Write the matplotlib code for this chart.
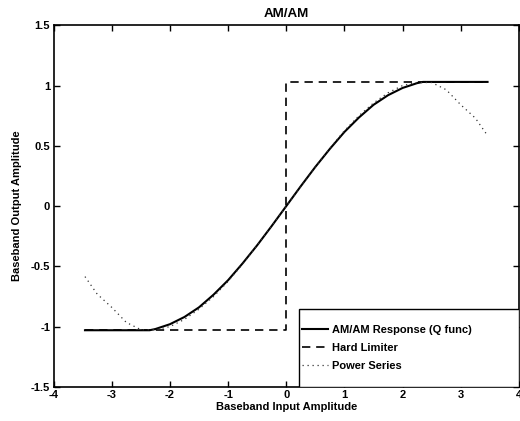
import matplotlib
matplotlib.use('Agg')
import matplotlib.pyplot as plt
from matplotlib.patches import Rectangle

# AM/AM response (Q function), read at sample input amplitudes
x_q = [-3.46, -2.35, -2.25, -2.0, -1.75, -1.5, -1.25, -1.0, -0.75, -0.5, -0.25, 0.0,
       0.25, 0.5, 0.75, 1.0, 1.25, 1.5, 1.75, 2.0, 2.25, 2.35, 3.46]
y_q = [-1.03, -1.03, -1.02, -0.98, -0.92, -0.84, -0.735, -0.615, -0.475, -0.325, -0.165, 0.0,
       0.165, 0.325, 0.475, 0.615, 0.735, 0.84, 0.92, 0.98, 1.02, 1.03, 1.03]

# hard limiter
x_hl = [-3.46, 0.0, 0.0, 3.46]
y_hl = [-1.03, -1.03, 1.03, 1.03]

# power series fit
x_ps = [-3.46, -3.25, -3.0, -2.75, -2.5, -2.25, -2.0, -1.75, -1.5, -1.25, -1.0, -0.75, -0.5, -0.25, 0.0,
        0.25, 0.5, 0.75, 1.0, 1.25, 1.5, 1.75, 2.0, 2.25, 2.5, 2.75, 3.0, 3.25, 3.46]
y_ps = [-0.585, -0.73, -0.84, -0.965, -1.025, -1.025, -1.0, -0.94, -0.855, -0.75, -0.625, -0.48, -0.325, -0.165, 0.0,
        0.165, 0.325, 0.48, 0.625, 0.75, 0.855, 0.94, 1.0, 1.025, 1.025, 0.965, 0.84, 0.73, 0.585]

x_ticks = [-4, -3, -2, -1, 0, 1, 2, 3, 4]
y_ticks = [-1.5, -1, -0.5, 0, 0.5, 1, 1.5]

plt.rcParams['font.family'] = ['Liberation Sans', 'DejaVu Sans']
plt.rcParams['font.weight'] = 'bold'
plt.rcParams['axes.titleweight'] = 'bold'
plt.rcParams['axes.labelweight'] = 'bold'
plt.rcParams['font.size'] = 8

fig = plt.figure(figsize=(5.2, 4.21), dpi=100)
ax = fig.add_axes([0.103, 0.081, 0.895, 0.859])

ax.plot(x_q, y_q, color='black', linewidth=1.5, label='AM/AM Response (Q func)')
ax.plot(x_hl, y_hl, color='black', linewidth=1.2, linestyle=(0, (5, 3.5)), label='Hard Limiter')
ax.plot(x_ps, y_ps, color='#333333', linewidth=0.9, linestyle=(0, (1, 3)), label='Power Series')

ax.set_xlim(-4, 4)
ax.set_ylim(-1.5, 1.5)
ax.set_xticks(x_ticks)
ax.set_yticks(y_ticks)
ax.set_yticklabels(['-1.5', '-1', '-0.5', '0', '0.5', '1', '1.5'])
ax.set_xticklabels(['-4', '-3', '-2', '-1', '0', '1', '2', '3', '4'])
ax.tick_params(direction='in', top=True, right=True, length=4, width=1, pad=2.5)
for s in ax.spines.values():
    s.set_linewidth(1.2)

ax.set_title('AM/AM', pad=6)
ax.set_xlabel('Baseband Input Amplitude', labelpad=1.5)
ax.set_ylabel('Baseband Output Amplitude', labelpad=6)

# legend box: matlab style, wide and tall with entries hugging the left edge
leg_box = (0.5275, 0.0, 0.4725, 0.2155)
ax.add_patch(Rectangle(leg_box[:2], leg_box[2], leg_box[3], transform=ax.transAxes,
                       facecolor='white', edgecolor='black', linewidth=1.0, zorder=4))
leg = ax.legend(loc='center left', bbox_to_anchor=leg_box, borderaxespad=0, frameon=False,
                handlelength=2.3, handletextpad=0.4, labelspacing=0.7, borderpad=0.3)
leg.set_zorder(5)

fig.savefig('out.png', dpi=100)
